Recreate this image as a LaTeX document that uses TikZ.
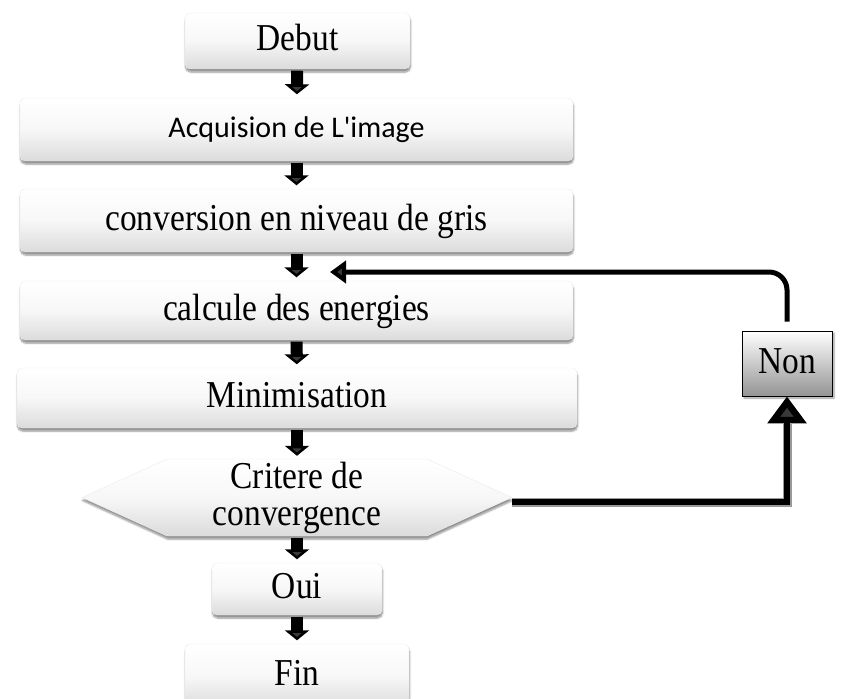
\documentclass[tikz,border=0pt]{standalone}
\usepackage{fontspec}
\setmainfont{Liberation Serif}[FakeStretch=0.88]
\newfontfamily\sansbox{Carlito}
\usetikzlibrary{arrows.meta,shadows.blur}

\tikzset{
  serifbig/.style={font=\fontsize{38}{37}\selectfont},
  stepbox/.style={rounded corners=5pt, draw=black!8, line width=0.4pt,
    top color=white, bottom color=black!14, middle color=white!97!black,
    blur shadow={shadow xshift=0.5pt, shadow yshift=-3pt, shadow blur steps=6, shadow opacity=45},
    inner sep=0pt, text height=27pt, text depth=8pt, serifbig},
  flow/.style={line width=12pt, -{Triangle[width=24pt,length=10pt]},
    shorten <=1.5pt, shorten >=3.5pt},
  hexfill/.style={draw=black!8, line width=0.4pt,
    top color=white, bottom color=black!14, middle color=white!97!black,
    blur shadow={shadow xshift=0.5pt, shadow yshift=-3pt, shadow blur steps=6, shadow opacity=45}},
  nonbox/.style={draw=black, line width=0.9pt, shading angle=45,
    top color=white, bottom color=black!42,
    blur shadow={shadow xshift=2pt, shadow yshift=-2pt, shadow blur steps=5, shadow opacity=40},
    inner sep=0pt, text height=27pt, text depth=8pt, serifbig,
    minimum width=90pt, minimum height=65pt},
}

\begin{document}
\begin{tikzpicture}[x=1pt,y=-1pt]
\useasboundingbox (0,0) rectangle (842,698);

% process steps
\node[stepbox, minimum width=225pt, minimum height=56pt] (debut) at (297.5,41) {Debut};
\node[stepbox, minimum width=553pt, minimum height=63pt, font=\sansbox\fontsize{30}{32}\selectfont,
      text height=21pt, text depth=6pt] (acq) at (296.5,129.5) {Acquision de L'image};
\node[stepbox, minimum width=553pt, minimum height=63pt] (conv) at (296.5,220.5) {conversion en niveau de gris};
\node[stepbox, minimum width=553pt, minimum height=59pt] (calc) at (296.5,310.5) {calcule des energies};
\node[stepbox, minimum width=560pt, minimum height=60pt] (mini) at (297,398) {Minimisation};

% decision hexagon
\path[hexfill] (82,497.5) -- (167,459) -- (427,459) -- (512,497.5) -- (427,536) -- (167,536) -- cycle;
\node[serifbig, align=center, inner sep=0pt, minimum width=430pt, minimum height=77pt] (crit) at (297,498)
  {Critere de\\convergence};

\node[stepbox, minimum width=170pt, minimum height=52pt] (oui) at (297,589) {Oui};
\node[stepbox, minimum width=224pt, minimum height=64pt] (fin) at (297,676) {Fin};

\node[nonbox] (non) at (787,363.5) {Non};

% main flow
\draw[flow] (debut) -- (acq);
\draw[flow] (acq) -- (conv);
\draw[flow] (conv) -- (calc);
\draw[flow] (calc) -- (mini);
\draw[flow] (mini) -- (crit);
\draw[flow] (crit) -- (oui);
\draw[flow] (oui) -- (fin);

% "Non" branch
\draw[line width=9pt, black!40, shorten >=2pt] ([yshift=-4pt]crit.east) -| ([yshift=-26pt]non.south);
\draw[line width=6.5pt, -{Triangle[width=38pt,length=27pt]}] ([yshift=-4pt]crit.east) -| (non.south);

% loop back
\coordinate (back) at (330,272);
\draw[line width=5pt, rounded corners=18pt, shorten <=9pt,
      -{Triangle[width=22pt,length=16pt]}] (non.north) |- (back);
\end{tikzpicture}
\end{document}
